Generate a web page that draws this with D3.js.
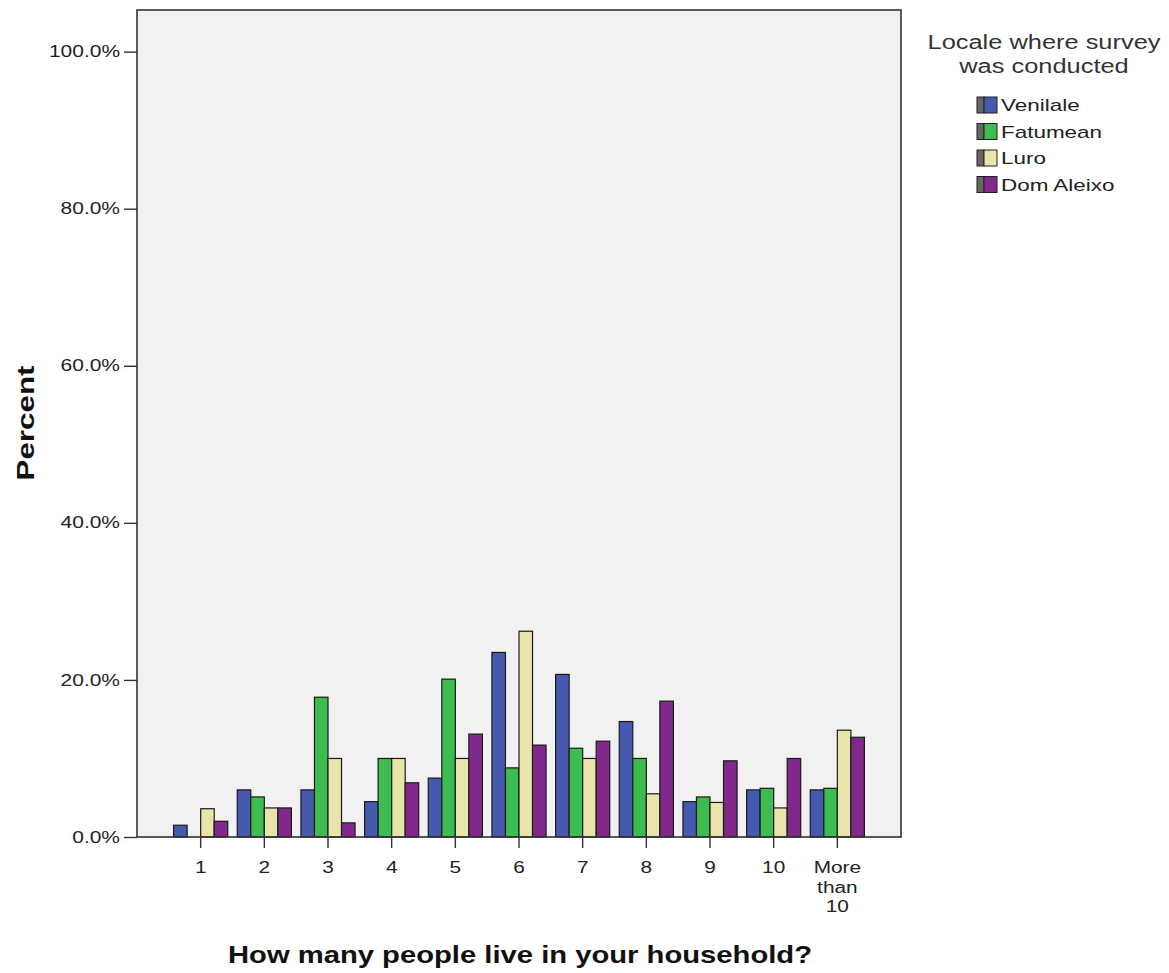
<!DOCTYPE html>
<html>
<head>
<meta charset="utf-8">
<script src="https://cdn.jsdelivr.net/npm/d3@7"></script>
<style>
  html, body { margin: 0; padding: 0; background: #ffffff; }
  svg { display: block; }
  text { font-family: "Liberation Sans", Arial, sans-serif; }
</style>
</head>
<body>
<svg id="chart" width="1169" height="973"></svg>
<script>
const categories = ["1", "2", "3", "4", "5", "6", "7", "8", "9", "10", "More than 10"];
const seriesNames = ["Venilale", "Fatumean", "Luro", "Dom Aleixo"];
const venilale  = [1.5, 6.0, 6.0, 4.5, 7.5, 23.5, 20.7, 14.7, 4.5, 6.0, 6.0];
const fatumean  = [0.0, 5.1, 17.8, 10.0, 20.1, 8.8, 11.3, 10.0, 5.1, 6.2, 6.2];
const luro      = [3.6, 3.7, 10.0, 10.0, 10.0, 26.2, 10.0, 5.5, 4.4, 3.7, 13.6];
const domAleixo = [2.0, 3.7, 1.8, 6.9, 13.1, 11.7, 12.2, 17.3, 9.7, 10.0, 12.7];
const yTicks = [0, 20, 40, 60, 80, 100];
const colors = ["#4559ae", "#3dbd50", "#e9e4aa", "#80298a"];

const seriesValues = [venilale, fatumean, luro, domAleixo];
const data = categories.map((c, i) => ({
  cat: c,
  vals: seriesNames.map((s, j) => ({ series: s, idx: j, value: seriesValues[j][i] }))
}));

const svg = d3.select("#chart");
const pLeft = 137, pRight = 901, pTop = 10, pBottom = 837;

// horizontally widen text (reference glyphs are wider than Liberation Sans)
function stretch(sel, factor) {
  sel.each(function() {
    const w = this.getComputedTextLength();
    d3.select(this).attr("textLength", w * factor).attr("lengthAdjust", "spacingAndGlyphs");
  });
}

const x = d3.scaleBand().domain(categories).range([pLeft, pRight])
  .paddingInner(0.15).paddingOuter(0.575);
const xs = d3.scaleBand().domain(seriesNames).range([0, x.bandwidth()]);
const y = d3.scaleLinear().domain([0, 105.3]).range([pBottom, pTop]);

// plot background
svg.append("rect")
  .attr("x", pLeft).attr("y", pTop)
  .attr("width", pRight - pLeft).attr("height", pBottom - pTop)
  .attr("fill", "#f1f1f1");

// bars
const g = svg.append("g");
g.selectAll("g.grp").data(data).join("g")
  .attr("class", "grp")
  .attr("transform", d => `translate(${x(d.cat)},0)`)
  .selectAll("rect").data(d => d.vals.filter(v => v.value > 0)).join("rect")
  .attr("x", v => xs(v.series))
  .attr("y", v => y(v.value))
  .attr("width", xs.bandwidth())
  .attr("height", v => y(0) - y(v.value))
  .attr("fill", v => colors[v.idx])
  .attr("stroke", "#1a1a1a")
  .attr("stroke-width", 1.2);

// frame
svg.append("rect")
  .attr("x", pLeft).attr("y", pTop)
  .attr("width", pRight - pLeft).attr("height", pBottom - pTop)
  .attr("fill", "none").attr("stroke", "#333").attr("stroke-width", 1.6);

// y axis
const yAxis = d3.axisLeft(y).tickValues(yTicks).tickSize(13).tickPadding(4)
  .tickFormat(d => d.toFixed(1) + "%");
const ya = svg.append("g").attr("transform", `translate(${pLeft},0)`).call(yAxis);
ya.select(".domain").remove();
ya.selectAll(".tick line").attr("stroke", "#333").attr("stroke-width", 1.4);
ya.selectAll(".tick text").attr("font-size", 16).attr("fill", "#222");
stretch(ya.selectAll(".tick text"), 1.31);

// x axis
const xAxis = d3.axisBottom(x).tickSize(11).tickPadding(8).tickFormat("");
const xa = svg.append("g").attr("transform", `translate(0,${pBottom})`).call(xAxis);
xa.select(".domain").remove();
xa.selectAll(".tick line").attr("stroke", "#333").attr("stroke-width", 1.4);
xa.selectAll(".tick").each(function(d) {
  const t = d3.select(this).append("g");
  const lines = d === "More than 10" ? ["More", "than", "10"] : [d];
  lines.forEach((ln, i) => {
    t.append("text").attr("x", 0).attr("y", 36 + i * 19.5)
      .attr("fill", "#222").attr("font-size", 16)
      .attr("text-anchor", "middle").text(ln);
  });
});
stretch(xa.selectAll(".tick text"), 1.3);

// axis titles
const xt = svg.append("text")
  .attr("x", 520).attr("y", 963)
  .attr("text-anchor", "middle")
  .attr("font-size", 24).attr("font-weight", "bold").attr("fill", "#111")
  .text("How many people live in your household?")
  .attr("textLength", 584).attr("lengthAdjust", "spacingAndGlyphs");

svg.append("text")
  .attr("transform", "translate(34,423) rotate(-90)")
  .attr("text-anchor", "middle")
  .attr("font-size", 24).attr("font-weight", "bold").attr("fill", "#111")
  .text("Percent")
  .attr("textLength", 115).attr("lengthAdjust", "spacingAndGlyphs");

// legend
const lg = svg.append("g");
const lt1 = lg.append("text").attr("x", 1044).attr("y", 49).attr("text-anchor", "middle")
  .attr("font-size", 20).attr("fill", "#333").text("Locale where survey");
const lt2 = lg.append("text").attr("x", 1044).attr("y", 73).attr("text-anchor", "middle")
  .attr("font-size", 20).attr("fill", "#333").text("was conducted");
stretch(lt1, 1.27);
stretch(lt2, 1.27);

const items = lg.selectAll("g.item").data(seriesNames).join("g")
  .attr("class", "item")
  .attr("transform", (d, i) => `translate(977,${97 + i * 26.5})`);
items.append("rect").attr("x", 0).attr("y", 0).attr("width", 7).attr("height", 16)
  .attr("fill", "#666").attr("stroke", "#222").attr("stroke-width", 1);
items.append("rect").attr("x", 7).attr("y", 0).attr("width", 13).attr("height", 16)
  .attr("fill", (d, i) => colors[i]).attr("stroke", "#222").attr("stroke-width", 1);
const itemText = items.append("text").attr("x", 24).attr("y", 14)
  .attr("font-size", 17).attr("fill", "#222").text(d => d);
stretch(itemText, 1.32);
</script>
</body>
</html>
